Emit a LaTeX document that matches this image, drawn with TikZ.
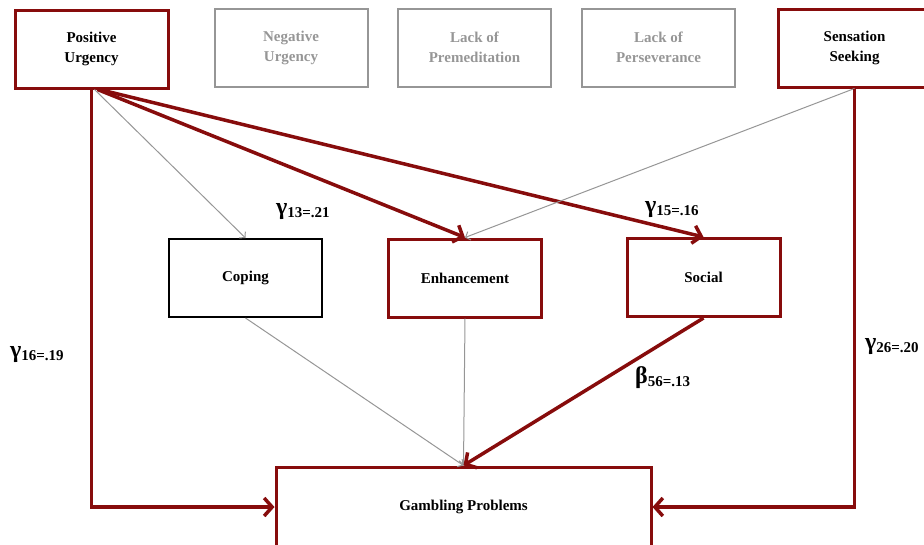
\documentclass[tikz,border=0pt]{standalone}
\usepackage{fontspec}
\setmainfont{Liberation Serif}
\usetikzlibrary{arrows.meta}
\definecolor{darkred}{RGB}{135,12,12}
\definecolor{lightgrey}{RGB}{150,150,150}

\tikzstyle{redbox} = [draw=darkred, line width=3pt, rectangle,
    minimum width=153pt, minimum height=78pt, align=center,
    font=\bfseries\fontsize{15}{20}\selectfont]
\tikzstyle{greybox} = [redbox, draw=lightgrey, line width=2pt, text=lightgrey]
\tikzstyle{blackbox} = [redbox, draw=black, line width=2pt]
\tikzstyle{redpath} = [draw=darkred, line width=3.5pt, -{Straight Barb[length=8pt,width=18pt]}]
\tikzstyle{greypath} = [draw=lightgrey, line width=1pt, -{Straight Barb[length=4pt,width=9pt]}]
\tikzstyle{coeflabel} = [anchor=west, inner sep=0pt, font=\bfseries]

\newcommand{\coef}[2]{{\fontsize{24}{24}\selectfont #1}\raisebox{-3pt}{\fontsize{15}{15}\selectfont #2}}

\begin{document}
\begin{tikzpicture}[x=1pt,y=1pt]
\useasboundingbox (0,0) rectangle (924,-544);
\node[redbox] (posurg) at (91.5,-49) {Positive\\Urgency};
\node[greybox] (negurg) at (291,-47.5) {Negative\\Urgency};
\node[greybox] (premed) at (474.5,-47.5) {Lack of\\Premeditation};
\node[greybox] (persev) at (658.5,-47.5) {Lack of\\Perseverance};
\node[redbox] (sensation) at (854.5,-48) {Sensation\\Seeking};

\node[blackbox] (coping) at (245.5,-278) {Coping};
\node[redbox] (enhance) at (465,-278) {Enhancement};
\node[redbox] (social) at (703.5,-277.5) {Social};

\node[redbox, minimum width=375pt, minimum height=80pt] (gambling) at (463.5,-507) {Gambling Problems};

% paths from the traits
\draw[greypath] ([xshift=3pt]posurg.south) -- (coping.north);
\draw[redpath] ([xshift=6pt]posurg.south) -- (enhance.north);
\draw[redpath] ([xshift=8pt]posurg.south) -- (social.north);
\draw[redpath] (posurg.south) |- (gambling.west);
\draw[greypath] (sensation.south) -- (enhance.north);
\draw[redpath] (sensation.south) |- (gambling.east);

% paths from the motives
\draw[greypath] (coping.south) -- (gambling.north);
\draw[greypath] (enhance.south) -- (gambling.north);
\draw[redpath] (social.south) -- (gambling.north);

\node[coeflabel] (g13) at (276,-212) {\coef{γ}{13=.21}};
\node[coeflabel] (g15) at (645,-210) {\coef{γ}{15=.16}};
\node[coeflabel] (g16) at (10,-355) {\coef{γ}{16=.19}};
\node[coeflabel] (g26) at (865,-347) {\coef{γ}{26=.20}};
\node[coeflabel] (b56) at (635,-378) {\coef{β}{56=.13}};
\end{tikzpicture}
\end{document}
